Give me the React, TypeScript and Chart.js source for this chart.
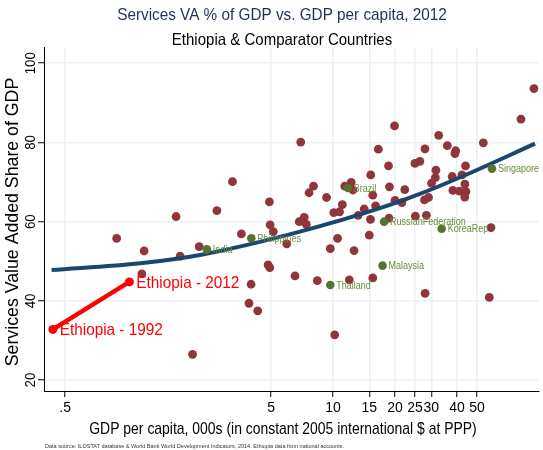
import React, { useEffect, useRef } from 'react';
import { Chart, registerables } from 'chart.js';

Chart.register(...registerables);

// ---- Data (GDP per capita in 000s, services VA % of GDP) ----
const otherGdp = [
  0.89, 1.21, 1.18, 1.73, 1.81, 2.24, 2.08, 2.73, 3.25, 3.59,
  4.91, 4.95, 5.13, 4.84, 4.93, 4.0, 3.91, 4.31, 5.96, 6.54,
  6.86, 7.25, 7.42, 6.97, 8.04, 7.65, 9.3, 8.39, 10.19, 9.7,
  10.52, 10.09, 10.76, 11.1, 11.4, 12.25, 12.5, 12.65, 12.0, 13.25,
  14.17, 15.0, 15.2, 15.6, 15.24, 15.6, 16.1, 16.6, 18.6, 18.8,
  18.7, 19.9, 20.0, 21.6, 22.3, 25.0, 26.4, 25.1, 27.8, 29.1,
  27.96, 28.4, 28.0, 30.1, 31.4, 31.6, 32.6, 35.9, 39.4, 39.1,
  37.9, 38.2, 41.1, 42.3, 44.0, 43.7, 44.2, 43.6, 53.7, 58.5,
  57.4, 81.8, 94.6,
];
const otherServ = [
  55.8, 52.6, 46.8, 61.3, 51.3, 53.7, 26.5, 62.8, 70.1, 56.9,
  65.0, 59.2, 57.5, 49.1, 48.4, 44.2, 39.4, 37.5, 54.4, 46.3,
  60.0, 61.1, 59.3, 80.1, 69.0, 67.3, 66.1, 45.1, 31.4, 53.2,
  55.8, 62.3, 62.5, 64.3, 69.0, 69.9, 68.0, 52.7, 45.3, 61.6,
  63.2, 56.6, 60.6, 45.8, 71.8, 66.7, 64.0, 78.3, 74.1, 68.8,
  60.9, 84.2, 65.4, 64.8, 68.1, 74.7, 75.2, 61.4, 65.5, 66.1,
  78.4, 61.6, 41.9, 69.7, 71.1, 73.0, 81.8, 79.2, 77.9, 77.2,
  71.4, 67.9, 67.7, 71.8, 74.1, 69.5, 67.6, 66.2, 79.9, 58.5,
  40.9, 85.9, 93.6,
];

const comparatorNames = ['India', 'Philippines', 'Brazil', 'Thailand', 'RussianFederation', 'Malaysia', 'KoreaRep', 'Singapore'];
const comparatorGdp = [2.44, 4.01, 11.8, 9.7, 17.7, 17.4, 33.7, 59.1];
const comparatorServ = [53.0, 55.8, 68.5, 44.0, 60.0, 48.9, 58.2, 73.4];

const ethiopiaLabels = ['Ethiopia - 1992', 'Ethiopia - 2012'];
const ethiopiaGdp = [0.436, 1.026];
const ethiopiaServ = [32.8, 44.8];

const fitGdp = [0.43, 1.16, 2.26, 6.92, 16.9, 26.4, 42.3, 95.7];
const fitServ = [47.8, 49.5, 51.6, 57.5, 63.4, 67.0, 71.4, 79.7];

const xTickValues = [0.5, 5, 10, 15, 20, 25, 30, 40, 50];
const xTickLabels = ['.5', '5', '10', '15', '20', '25', '30', '40', '50'];
const yTickValues = [20, 40, 60, 80, 100];
const yTickLabels = ['20', '40', '60', '80', '100'];

const titleText = 'Services VA % of GDP vs. GDP per capita, 2012';
const subtitleText = 'Ethiopia & Comparator Countries';
const xTitle = 'GDP per capita, 000s (in constant 2005 international $ at PPP)';
const yTitle = 'Services Value Added Share of GDP';
const noteText = 'Data source: ILOSTAT database & World Bank World Development Indicators, 2014. Ethiopia data from national accounts.';

const FONT = '"Liberation Sans", Arial, sans-serif';

function drawText(
  ctx: CanvasRenderingContext2D,
  text: string,
  x: number,
  y: number,
  o: { size: number; color: string; align?: CanvasTextAlign; baseline?: CanvasTextBaseline; sx?: number; rot?: number }
) {
  ctx.save();
  ctx.translate(x, y);
  if (o.rot) ctx.rotate(o.rot);
  ctx.scale(o.sx ?? 1, 1);
  ctx.font = `${o.size}px ${FONT}`;
  ctx.fillStyle = o.color;
  ctx.textAlign = o.align ?? 'center';
  ctx.textBaseline = o.baseline ?? 'middle';
  ctx.fillText(text, 0, 0);
  ctx.restore();
}

const textPlugin = {
  id: 'stataText',
  afterDatasetsDraw(chart: any) {
    const ctx = chart.ctx as CanvasRenderingContext2D;
    const gm = chart.getDatasetMeta(1);
    gm.data.forEach((el: any, i: number) => {
      drawText(ctx, comparatorNames[i], el.x + 6, el.y + 0.5, { size: 11, color: '#6a8a40', align: 'left', sx: 0.82 });
    });
    const em = chart.getDatasetMeta(0);
    em.data.forEach((el: any, i: number) => {
      drawText(ctx, ethiopiaLabels[i], el.x + 7, el.y + 1, { size: 17, color: '#ff0000', align: 'left', sx: 0.9 });
    });
  },
  afterDraw(chart: any) {
    const ctx = chart.ctx as CanvasRenderingContext2D;
    const ys = chart.scales.y;
    yTickValues.forEach((v, i) => {
      drawText(ctx, yTickLabels[i], 31, ys.getPixelForValue(v), { size: 14, color: '#000', rot: -Math.PI / 2, sx: 0.95 });
    });
    drawText(ctx, titleText, 282, 15, { size: 17, color: '#1e3259', sx: 0.9 });
    drawText(ctx, subtitleText, 282, 40, { size: 16.5, color: '#000', sx: 0.91 });
    drawText(ctx, xTitle, 283, 429, { size: 17, color: '#000', sx: 0.82 });
    drawText(ctx, yTitle, 13, 222, { size: 18, color: '#000', rot: -Math.PI / 2, sx: 0.985 });
    drawText(ctx, noteText, 45, 446, { size: 6, color: '#333', align: 'left', sx: 0.92 });
  },
};

export default function App() {
  const ref = useRef<HTMLCanvasElement | null>(null);

  useEffect(() => {
    if (!ref.current) return;
    const chart = new Chart(ref.current, {
      type: 'scatter',
      data: {
        datasets: [
          {
            label: 'Ethiopia',
            data: ethiopiaGdp.map((x, i) => ({ x, y: ethiopiaServ[i] })),
            showLine: true,
            borderColor: '#ff0000',
            borderWidth: 4.5,
            backgroundColor: '#ff0000',
            pointRadius: 4.5,
            pointBorderWidth: 0,
            order: 0,
          },
          {
            label: 'Comparators',
            data: comparatorGdp.map((x, i) => ({ x, y: comparatorServ[i] })),
            backgroundColor: '#55752f',
            pointRadius: 4.3,
            pointBorderWidth: 0,
            order: 1,
          },
          {
            label: 'Fit',
            data: fitGdp.map((x, i) => ({ x, y: fitServ[i] })),
            showLine: true,
            borderColor: '#1a476f',
            borderWidth: 4,
            pointRadius: 0,
            cubicInterpolationMode: 'monotone',
            order: 2,
          },
          {
            label: 'Countries',
            data: otherGdp.map((x, i) => ({ x, y: otherServ[i] })),
            backgroundColor: '#90353b',
            pointRadius: 4.4,
            pointBorderWidth: 0,
            order: 3,
          },
        ],
      },
      options: {
        responsive: false,
        maintainAspectRatio: false,
        devicePixelRatio: 1,
        animation: false,
        layout: { padding: { top: 47, right: 2, left: 0, bottom: 0 } },
        plugins: { legend: { display: false }, tooltip: { enabled: false }, title: { display: false } },
        scales: {
          x: {
            type: 'logarithmic',
            min: 0.395,
            max: 99.5,
            afterBuildTicks: (s: any) => {
              s.ticks = xTickValues.map((v) => ({ value: v }));
            },
            afterFit: (s: any) => {
              s.height = 59;
            },
            grid: { color: '#eaf2f3', lineWidth: 1.5, drawTicks: true, tickLength: 6, tickColor: '#000', tickWidth: 1 },
            border: { display: true, color: '#000', width: 1 },
            ticks: {
              autoSkip: false,
              maxRotation: 0,
              minRotation: 0,
              padding: 3,
              color: '#000',
              font: { family: FONT, size: 14 },
              callback: (_v: any, i: number) => xTickLabels[i],
            },
          },
          y: {
            type: 'linear',
            min: 17.25,
            max: 104.1,
            afterBuildTicks: (s: any) => {
              s.ticks = yTickValues.map((v) => ({ value: v }));
            },
            afterFit: (s: any) => {
              s.width = 44;
            },
            grid: { color: '#eaf2f3', lineWidth: 1.5, drawTicks: true, tickLength: 6, tickColor: '#000', tickWidth: 1 },
            border: { display: true, color: '#000', width: 1 },
            ticks: { display: false },
          },
        },
      },
      plugins: [textPlugin],
    } as any);
    return () => chart.destroy();
  }, []);

  return (
    <div style={{ position: 'absolute', left: 0, top: 0, width: 543, height: 450, background: '#fff' }}>
      <canvas ref={ref} width={543} height={450} style={{ display: 'block' }} />
    </div>
  );
}
